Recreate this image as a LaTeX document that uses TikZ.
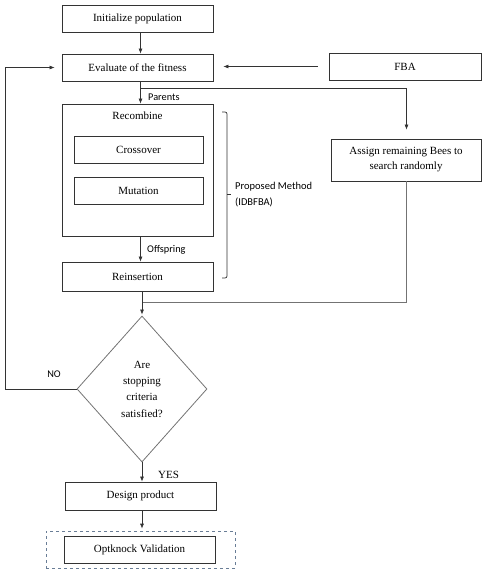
\documentclass[tikz,border=0pt]{standalone}
\usepackage{fontspec}
\setmainfont{Liberation Serif}
\newfontfamily\labfont{Carlito}
\usetikzlibrary{arrows.meta,shapes.geometric}
\definecolor{dashc}{RGB}{105,125,150}
\begin{document}
\begin{tikzpicture}[x=1pt,y=-1pt,
  font=\fontsize{11}{13}\selectfont,
  box/.style={draw=black!80,line width=0.8pt,minimum height=27pt,inner sep=0pt},
  wbox/.style={box,minimum width=151pt},
  ibox/.style={box,minimum width=129pt},
  line/.style={draw=black!80,line width=0.7pt},
  arr/.style={line,-{Latex[length=5pt,width=4pt]}},
  lab/.style={font=\labfont\fontsize{10.3}{12}\selectfont,inner sep=0pt},
  glab/.style={font=\labfont\fontsize{10.5}{16}\selectfont,inner sep=0pt,align=left}]
\useasboundingbox (0,0) rectangle (482,578);
\coordinate (spine) at (140.5,0);
\coordinate (rcol) at (406.5,0);
\coordinate (lcol) at (5,0);

\node[wbox] (init) at (137.5,18.5) {Initialize population};
\node[wbox] (eval) at (137.5,67.5) {Evaluate of the fitness};
\node[box,minimum width=152pt] (fba) at (405,66.5) {FBA};
\node[wbox,minimum height=132pt] (rec) at (137.5,170) {};
\node[inner sep=0pt] (rectext) at (137.5,116) {Recombine};
\node[ibox] (cross) at (138.5,149.5) {Crossover};
\node[ibox] (mut) at (138.5,190.5) {Mutation};
\node[wbox,minimum height=29pt] (reins) at (137.5,276.5) {Reinsertion};
\node[box,minimum width=150pt,minimum height=42pt,align=center,font=\fontsize{11}{15}\selectfont] (assign) at (406,160) {Assign remaining Bees to\\search randomly};
\node[diamond,draw=black!55,line width=0.8pt,minimum width=130pt,minimum height=146pt,inner sep=0pt,align=center,font=\fontsize{11}{16.3}\selectfont] (dec) at (142,389) {Are\\stopping\\criteria\\satisfied?};
\node[wbox,minimum height=28pt] (design) at (140.5,496) {Design product};
\node[draw=dashc,dashed,line width=0.7pt,minimum width=189pt,minimum height=37pt,inner sep=0pt] (dash) at (140.5,549.5) {};
\node[wbox] (opt) at (139.5,549.5) {Optknock Validation};

% labels
\node[lab,anchor=west] (parents) at (148,97) {Parents};
\node[lab,anchor=west] (offs) at (147,250) {Offspring};
\node[glab,anchor=west] (prop) at (235,195) {Proposed Method\\(IDBFBA)};
\node[lab] (no) at (54,374) {NO};
\node[inner sep=0pt,anchor=west] (yes) at (158,475) {YES};

% connectors
\draw[arr] (init.south -| spine) -- (eval.north -| spine);
\draw[arr,shorten <=11pt,shorten >=10pt] (fba.west) -- (eval.east |- fba.west);
\draw[arr] (eval.south -| spine) -- (rec.north -| spine);
\coordinate (br) at (140.5,88);
\draw[arr,shorten >=9pt] (br) -| (assign.north -| rcol);
\draw[arr] (rec.south -| spine) -- (reins.north -| spine);
\coordinate (merge) at (142,302);
\draw[line] (reins.south -| merge) -- (merge);
\draw[line,draw=black!55] (assign.south -| rcol) |- (merge);
\draw[arr,shorten >=1pt] (merge) -- (dec.north);
\draw[arr,shorten >=7pt] (dec.west) -- (dec.west -| lcol) |- (eval.west);
\draw[arr] (dec.south) -- (design.north -| dec.south);
\draw[arr,shorten >=2pt] (design.south -| dec.south) -- (dash.north -| dec.south);

% brace
\draw[line,rounded corners=2pt] (222,112) -- (227,112) -- (227,278) -- (222,278);
\draw[line] (227,194) -- (231,194);
\end{tikzpicture}
\end{document}
